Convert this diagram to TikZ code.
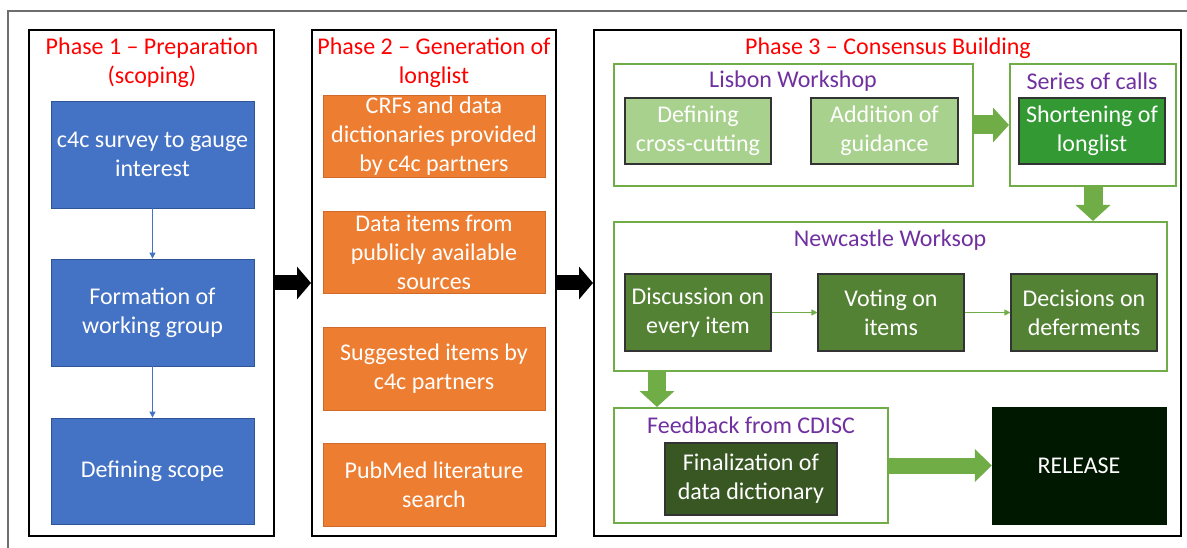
\documentclass[tikz,border=0pt]{standalone}
\usepackage{fontspec}
\setmainfont{Carlito}
\usetikzlibrary{arrows.meta}
\definecolor{pblue}{HTML}{4472C4}
\definecolor{pblueb}{HTML}{2F5597}
\definecolor{porange}{HTML}{ED7D31}
\definecolor{porangeb}{HTML}{D0692A}
\definecolor{pgreen}{HTML}{70AD47}
\definecolor{lgreen}{HTML}{A9D18E}
\definecolor{mgreen}{HTML}{339933}
\definecolor{dgreen}{HTML}{548235}
\definecolor{ddgreen}{HTML}{385723}
\definecolor{relcol}{HTML}{001800}
\definecolor{ppurple}{HTML}{7030A0}
\definecolor{frame}{HTML}{6E6E6E}
\tikzset{
  phasebox/.style={draw=black, line width=2pt, inner sep=0pt},
  grpbox/.style={draw=pgreen, line width=2pt, inner sep=0pt},
  bluebox/.style={fill=pblue, draw=pblueb, line width=0.8pt, text=white, align=center, inner sep=0pt},
  orangebox/.style={fill=porange, draw=porangeb, line width=0.8pt, text=white, align=center, inner sep=0pt},
  gbox/.style={draw=black!80, line width=1.2pt, text=white, align=center, inner sep=0pt},
  redtitle/.style={text=red, align=center, inner sep=0pt},
  purtitle/.style={text=ppurple, align=center, inner sep=0pt},
  thinblue/.style={draw=pblue, line width=1pt, -{Triangle[length=6pt,width=6pt]}},
  thingreen/.style={draw=pgreen, line width=1.2pt, -{Triangle[length=6pt,width=6pt]}},
  blockblack/.style={draw=black, line width=15pt, -{Triangle[length=14pt,width=32pt]}},
  blockgreen/.style={draw=pgreen, line width=19pt, -{Triangle[length=16pt,width=34pt]}},
}
\begin{document}
\begin{tikzpicture}[x=1pt, y=-1pt, font=\fontsize{24}{29}\selectfont]
\useasboundingbox (0,0) rectangle (1187,548);
\clip (0,0) rectangle (1187,548);
\fill[white] (0,0) rectangle (1187,548);
% outer frame
\draw[frame, line width=1.5pt] (8,11) rectangle (1230,600);

% phase boxes
\node[phasebox, minimum width=245, minimum height=506] (p1) at (151.5,283) {};
\node[phasebox, minimum width=244, minimum height=506] (p2) at (434,283) {};
\node[phasebox, minimum width=587, minimum height=506] (p3) at (887.5,283) {};

\node[redtitle] (t1) at (152,62.5) {Phase 1 -- Preparation\\(scoping)};
\node[redtitle] (t2) at (434,62.5) {Phase 2 -- Generation of\\longlist};
\node[redtitle] (t3) at (888,48) {Phase 3 -- Consensus Building};

% phase 1
\node[bluebox, minimum width=203, minimum height=107] (b1) at (152.5,154.5) {c4c survey to gauge\\interest};
\node[bluebox, minimum width=203, minimum height=107] (b2) at (152.5,312.5) {Formation of\\working group};
\node[bluebox, minimum width=203, minimum height=106] (b3) at (152.5,471) {Defining scope};
\draw[thinblue] (b1) -- (b2);
\draw[thinblue] (b2) -- (b3);

% phase 2
\node[orangebox, minimum width=222, minimum height=82] (o1) at (434,136) {CRFs and data\\dictionaries provided\\by c4c partners};
\node[orangebox, minimum width=222, minimum height=82] (o2) at (434,252) {Data items from\\publicly available\\sources};
\node[orangebox, minimum width=222, minimum height=83] (o3) at (434,368.5) {Suggested items by\\c4c partners};
\node[orangebox, minimum width=222, minimum height=83] (o4) at (434,484.5) {PubMed literature\\search};

% block arrows between phases
\draw[blockblack] (p1.east) -- (p2.west);
\draw[blockblack] (p2.east) -- (p3.west);

% phase 3 groups
\node[grpbox, minimum width=359, minimum height=122] (lis) at (793.5,125) {};
\node[purtitle] (lisT) at (793,81) {Lisbon Workshop};
\node[gbox, fill=lgreen, minimum width=146, minimum height=66] (def) at (698,131) {Defining\\cross-cutting};
\node[gbox, fill=lgreen, minimum width=147, minimum height=66] (add) at (884.5,131) {Addition of\\guidance};

\node[grpbox, minimum width=166, minimum height=122] (ser) at (1093,125) {};
\node[purtitle] (serT) at (1092,81) {Series of calls};
\node[gbox, fill=mgreen, minimum width=146, minimum height=66] (sho) at (1092,131) {Shortening of\\longlist};

\node[grpbox, minimum width=553, minimum height=149] (new) at (890.5,296.5) {};
\node[purtitle] (newT) at (890,240) {Newcastle Worksop};
\node[gbox, fill=dgreen, minimum width=146, minimum height=77] (dis) at (698,312.5) {Discussion on\\every item};
\node[gbox, fill=dgreen, minimum width=146, minimum height=77] (vot) at (891,312.5) {Voting on\\items};
\node[gbox, fill=dgreen, minimum width=146, minimum height=77] (dec) at (1084,312.5) {Decisions on\\deferments};
\draw[thingreen] (dis) -- (vot);
\draw[thingreen] (vot) -- (dec);

\node[grpbox, minimum width=274, minimum height=115] (fb) at (751,465.5) {};
\node[purtitle] (fbT) at (751,425) {Feedback from CDISC};
\node[gbox, fill=ddgreen, minimum width=172, minimum height=72] (fin) at (751,479) {Finalization of\\data dictionary};

\node[fill=relcol, draw=relcol, text=white, inner sep=0pt, minimum width=174, minimum height=117] (rel) at (1079,465.5) {RELEASE};

% green block arrows
\draw[blockgreen] (lis.east) -- (ser.west);
\draw[blockgreen] (ser.south) -- (ser.south |- new.north);
\coordinate (nf) at (657,0);
\draw[blockgreen, line width=18pt] (new.south -| nf) -- (fb.north -| nf);
\draw[blockgreen, line width=16pt, -{Triangle[length=17pt,width=32pt]}] (fb.east) -- (rel.west);
\end{tikzpicture}
\end{document}
